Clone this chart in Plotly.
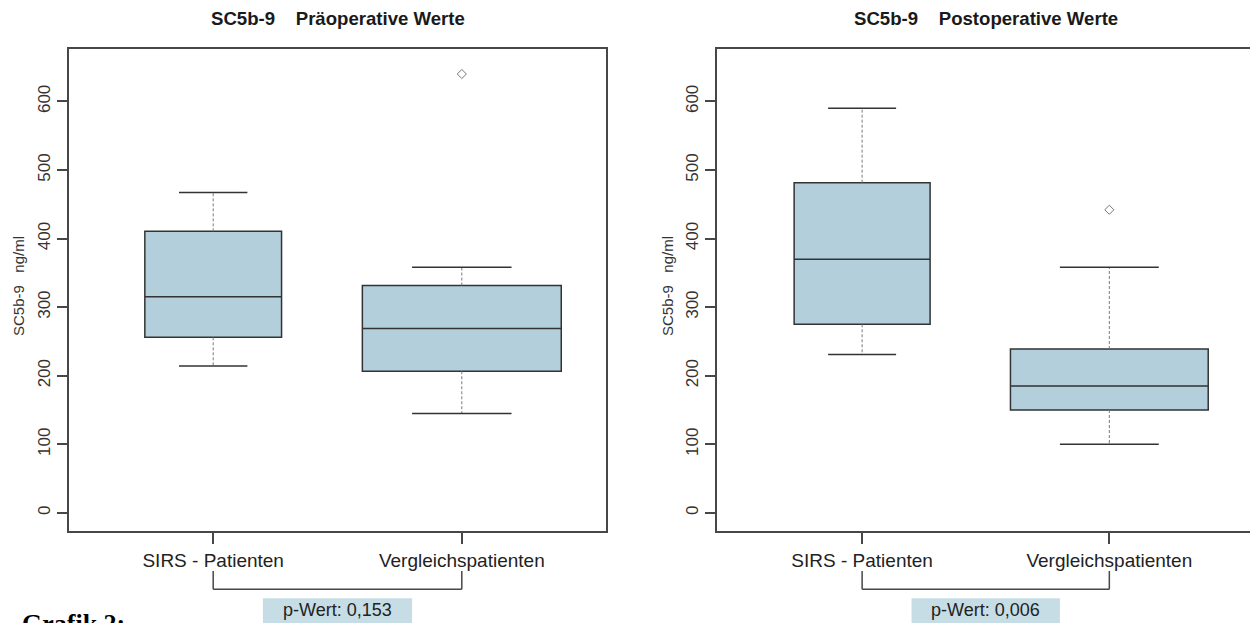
import plotly.graph_objects as go

# ---------------- data ----------------
groups = ["SIRS - Patienten", "Vergleichspatienten"]
positions = [1, 2]

pre_lower = [214, 145]
pre_q1 = [256, 206.5]
pre_median = [315, 269]
pre_q3 = [410.5, 331.5]
pre_upper = [467, 358]
pre_out_x = [2]
pre_out_y = [640]

post_lower = [231, 100]
post_q1 = [275, 150]
post_median = [370, 185]
post_q3 = [481.5, 239]
post_upper = [590, 358]
post_out_x = [2]
post_out_y = [442]

titles = ["SC5b-9\u00a0\u00a0\u00a0\u00a0Präoperative Werte", "SC5b-9\u00a0\u00a0\u00a0\u00a0Postoperative Werte"]
p_texts = ["p-Wert: 0,153", "p-Wert: 0,006"]
y_label = "SC5b-9\u00a0\u00a0\u00a0ng/ml"
y_ticks = [0, 100, 200, 300, 400, 500, 600]
caption = "Grafik 2:"

# ---------------- style ----------------
W, H = 1250, 623
box_widths = [0.55, 0.8]
FILL = "#b3cfdc"
PFILL = "#c6dde6"
LINE = "#333333"
FRAME = "#474747"
SANS = "Liberation Sans, Arial, sans-serif"

def px_x(p):
    return p / W

def px_y(p):
    return 1 - p / H

fig = go.Figure()

panels = [
    dict(xa="x", ya="y", lower=pre_lower, q1=pre_q1, med=pre_median, q3=pre_q3, upper=pre_upper,
         ox=pre_out_x, oy=pre_out_y),
    dict(xa="x2", ya="y2", lower=post_lower, q1=post_q1, med=post_median, q3=post_q3, upper=post_upper,
         ox=post_out_x, oy=post_out_y),
]

for pan in panels:
    for i, pos in enumerate(positions):
        w = box_widths[i]
        # dotted whiskers
        fig.add_trace(go.Scatter(
            x=[pos, pos, None, pos, pos],
            y=[pan["q3"][i], pan["upper"][i], None, pan["q1"][i], pan["lower"][i]],
            mode="lines", line=dict(color="#7a7a7a", width=1, dash="3px,2px"),
            xaxis=pan["xa"], yaxis=pan["ya"], hoverinfo="skip", showlegend=False))
        # caps
        fig.add_trace(go.Scatter(
            x=[pos - w / 4, pos + w / 4, None, pos - w / 4, pos + w / 4],
            y=[pan["upper"][i], pan["upper"][i], None, pan["lower"][i], pan["lower"][i]],
            mode="lines", line=dict(color=LINE, width=1.5),
            xaxis=pan["xa"], yaxis=pan["ya"], hoverinfo="skip", showlegend=False))
        # box
        fig.add_trace(go.Box(
            x=[pos], q1=[pan["q1"][i]], median=[pan["med"][i]], q3=[pan["q3"][i]],
            lowerfence=[pan["q1"][i]], upperfence=[pan["q3"][i]],
            width=w, fillcolor=FILL, line=dict(color=LINE, width=1.5),
            boxpoints=False, xaxis=pan["xa"], yaxis=pan["ya"],
            hoverinfo="skip", showlegend=False))
    # outliers
    fig.add_trace(go.Scatter(
        x=pan["ox"], y=pan["oy"], mode="markers",
        marker=dict(symbol="diamond-open", size=7, color="#777777", line=dict(width=1)),
        xaxis=pan["xa"], yaxis=pan["ya"], hoverinfo="skip", showlegend=False))

ydom = [px_y(530.7), px_y(49.3)]
common_x = dict(tickmode="array", tickvals=positions, ticktext=groups, ticks="outside", ticklen=12,
                tickwidth=1.5, tickcolor=FRAME, showline=True, linecolor=FRAME, linewidth=1.5,
                showgrid=False, zeroline=False, tickfont=dict(family=SANS, size=19, color="#222222"),
                fixedrange=True)
common_y = dict(range=[-26, 676], tickmode="array", tickvals=y_ticks, ticks="outside", ticklen=10,
                tickwidth=1.5, tickcolor=FRAME, showline=True, linecolor=FRAME, linewidth=1.5,
                showgrid=False, zeroline=False, tickangle=-90,
                tickfont=dict(family=SANS, size=17, color="#333333"), fixedrange=True)

fig.update_layout(
    width=W, height=H, margin=dict(l=0, r=0, t=0, b=0),
    paper_bgcolor="white", plot_bgcolor="white", showlegend=False,
    xaxis=dict(domain=[px_x(69), px_x(606)], range=[0.42, 2.58], mirror=True, anchor="y", **common_x),
    yaxis=dict(domain=ydom, anchor="x", mirror=True, **common_y),
    xaxis2=dict(domain=[px_x(717), 1.0], range=[0.413, 2.569], mirror=True, anchor="y2", **common_x),
    yaxis2=dict(domain=ydom, anchor="x2", mirror=False, **common_y),
)

annotations = []
shapes = []
ylabel_x = [18, 667]
for k, (xa, title, ptxt) in enumerate(zip(["x", "x2"], titles, p_texts)):
    annotations.append(dict(text="<b>" + title + "</b>", xref=xa, yref="paper", x=1.5, y=px_y(18.5),
                            xanchor="center", yanchor="middle", showarrow=False,
                            font=dict(family=SANS, size=18.6, color="#1a1a1a")))
    annotations.append(dict(text=y_label, xref="paper", yref="paper", x=px_x(ylabel_x[k]), y=px_y(286),
                            xanchor="center", yanchor="middle", textangle=-90, showarrow=False,
                            font=dict(family=SANS, size=15, color="#333333")))
    # bracket
    for (x0, y0, x1, y1) in [(positions[0], 571, positions[0], 589.3),
                             (positions[0], 589.3, positions[1], 589.3),
                             (positions[1], 571, positions[1], 589.3)]:
        shapes.append(dict(type="line", xref=xa, yref="paper", x0=x0, x1=x1, y0=px_y(y0), y1=px_y(y1),
                           line=dict(color=FRAME, width=1.5)))
    # p-value box
    shapes.append(dict(type="rect", xref=xa, yref="paper", x0=1.2, x1=1.8, y0=px_y(630), y1=px_y(598.3),
                       fillcolor=PFILL, line=dict(width=0), layer="below"))
    annotations.append(dict(text=ptxt, xref=xa, yref="paper", x=1.5, y=px_y(610),
                            xanchor="center", yanchor="middle", showarrow=False,
                            font=dict(family=SANS, size=18, color="#222222")))

annotations.append(dict(text="<b>" + caption + "</b>", xref="paper", yref="paper", x=px_x(20), y=px_y(607),
                        xanchor="left", yanchor="top", showarrow=False,
                        font=dict(family="Liberation Serif, Times New Roman, serif", size=26, color="#000000")))

fig.update_layout(annotations=annotations, shapes=shapes)
fig.write_html("out.html", config={"displayModeBar": False},
               post_script="document.body.style.margin='0';document.body.style.overflow='hidden';")
